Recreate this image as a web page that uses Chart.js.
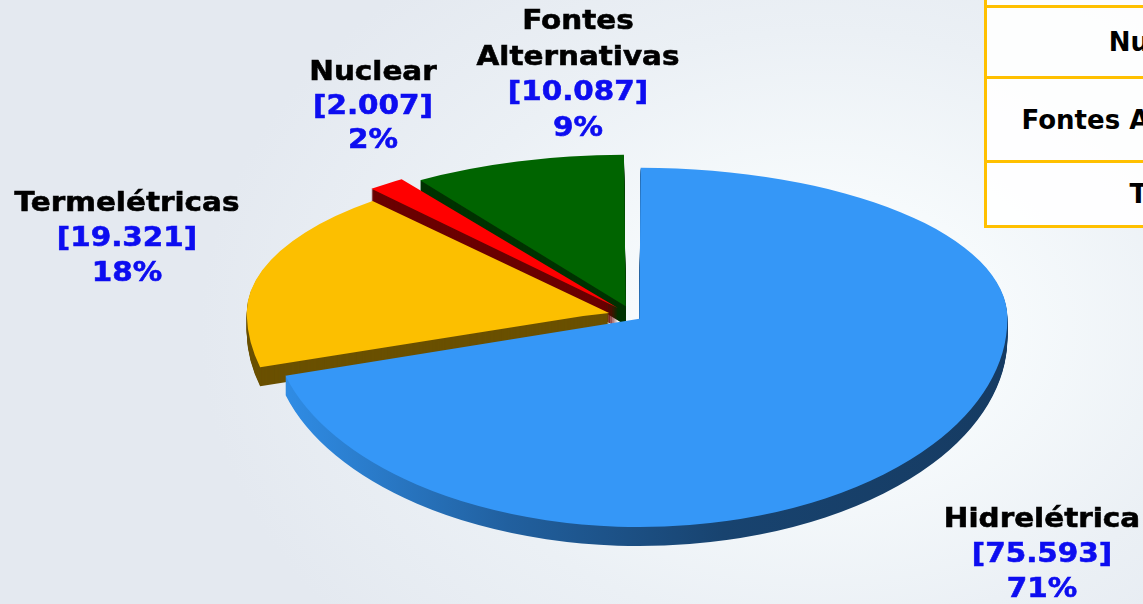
<!DOCTYPE html>
<html>
<head>
<meta charset="utf-8">
<script src="https://cdn.jsdelivr.net/npm/chart.js@4.4.0/dist/chart.umd.min.js"></script>
<style>
html,body{margin:0;padding:0;width:1143px;height:604px;overflow:hidden;}
body{position:relative;font-family:"DejaVu Sans",Verdana,sans-serif;
 background:radial-gradient(ellipse 620px 460px at 820px 330px,#ffffff 0%,#f6fafc 30%,#ebf0f5 65%,#e4e9f0 100%);}
#wrap{position:absolute;left:0;top:0;width:1143px;height:604px;}
#tbl{position:absolute;left:984px;top:-73px;width:362px;table-layout:fixed;border-collapse:collapse;}
#tbl td{border:3px solid #ffc000;padding:0;text-align:center;white-space:nowrap;font-weight:bold;font-size:26px;color:#000;background:rgba(255,255,255,0.9);}
</style>
</head>
<body>
<table id="tbl">
<tr style="height:78px"><td>Hidrelétrica</td></tr>
<tr style="height:71px"><td>Nuclear</td></tr>
<tr style="height:84px"><td>Fontes Alternativas</td></tr>
<tr style="height:65px"><td>Total</td></tr>
</table>
<div id="wrap"><canvas id="c" width="1143" height="604"></canvas></div>
<script>
// ---- data ----
const categories = ['Hidrelétrica', 'Termelétricas', 'Nuclear', 'Fontes Alternativas'];
const values = [75593, 19321, 2007, 10087];
const topColors = ['#3597f7', '#fcbf00', '#ff0000', '#006400'];
const sideColors = ['blue-gradient', '#6a5000', '#6b0000', '#003200'];

// ---- layout (not data) ----
const K_FAR = 0.408;   // vertical squash of the far (upper) half
const K_NEAR = 0.566;  // vertical squash of the near (lower) half
const CY = 316;        // screen y of pie centre line
const DEPTH = 19;      // thickness in screen px
const labelAnchors = [
  {x: 1042, y: 520, step: 35},
  {x: 127, y: 204, step: 35},
  {x: 373, y: 73, step: 34},
  {x: 578, y: 22, step: 35.5}
];

function fmt(v) {
  return String(v).replace(/\B(?=(\d{3})+(?!\d))/g, '.');
}

const halves = [{k: K_FAR, up: true}, {k: K_NEAR, up: false}];
const backToFront = [1, 2, 3, 0];

function drawHalf(ctx, meta, cyc, d, half, colorFor) {
  ctx.save();
  ctx.translate(0, CY + d);
  ctx.scale(1, half.k);
  ctx.translate(0, -cyc);
  ctx.beginPath();
  if (half.up) ctx.rect(-50, cyc - 3000, 3000, 3000);
  else ctx.rect(-50, cyc, 3000, 3000);
  ctx.clip();
  backToFront.forEach(i => {
    const el = meta.data[i];
    const col = colorFor(i);
    if (col === null) {
      el.draw(ctx);
    } else {
      const proxy = Object.create(el);
      proxy.options = Object.assign({}, el.options, {backgroundColor: col, borderColor: col, borderWidth: 0});
      proxy.draw(ctx);
    }
  });
  ctx.restore();
}

const pie3d = {
  id: 'pie3d',
  beforeDatasetsDraw(chart) {
    const ctx = chart.ctx;
    const meta = chart.getDatasetMeta(0);
    const cyc = meta.data[0].y;
    const g = ctx.createLinearGradient(285, 0, 1005, 0);
    g.addColorStop(0, '#2f8be3');
    g.addColorStop(0.3, '#21609f');
    g.addColorStop(0.6, '#18436f');
    g.addColorStop(1, '#163b62');
    const sideFor = i => (sideColors[i] === 'blue-gradient' ? g : sideColors[i]);
    for (let d = DEPTH; d >= 1; d--) {
      halves.forEach(h => drawHalf(ctx, meta, cyc, d, h, sideFor));
    }
    halves.forEach(h => drawHalf(ctx, meta, cyc, 0, h, () => null));
    return false; // datasets already drawn through the arc elements
  }
};

const labelsPlugin = {
  id: 'pieLabels',
  afterDraw(chart) {
    const ctx = chart.ctx;
    const total = values.reduce((a, b) => a + b, 0);
    ctx.save();
    ctx.textAlign = 'center';
    ctx.textBaseline = 'middle';
    ctx.font = 'bold 27px "DejaVu Sans", Verdana, sans-serif';
    categories.forEach((name, i) => {
      const a = labelAnchors[i];
      const nameLines = name.indexOf(' ') > 0 ? name.split(' ') : [name];
      const lines = nameLines.map(t => ({t, c: '#000000'}));
      lines.push({t: '[' + fmt(values[i]) + ']', c: '#0d0df0'});
      lines.push({t: Math.round(values[i] / total * 100) + '%', c: '#0d0df0'});
      lines.forEach((ln, j) => {
        ctx.save();
        ctx.translate(a.x, a.y + j * a.step);
        ctx.scale(1.09, 1);
        ctx.fillStyle = ln.c;
        ctx.strokeStyle = ln.c;
        ctx.lineWidth = 0.6;
        ctx.fillText(ln.t, 0, 0);
        ctx.strokeText(ln.t, 0, 0);
        ctx.restore();
      });
    });
    ctx.restore();
  }
};

new Chart(document.getElementById('c'), {
  type: 'pie',
  data: {
    labels: categories,
    datasets: [{
      data: values,
      backgroundColor: topColors,
      borderWidth: 0,
      offset: [32, 100, 100, 100],
      radius: 360,
      clip: false
    }]
  },
  options: {
    responsive: false,
    animation: false,
    layout: {padding: {left: 123}},
    plugins: {legend: {display: false}, tooltip: {enabled: false}}
  },
  plugins: [pie3d, labelsPlugin]
});
</script>
</body>
</html>
